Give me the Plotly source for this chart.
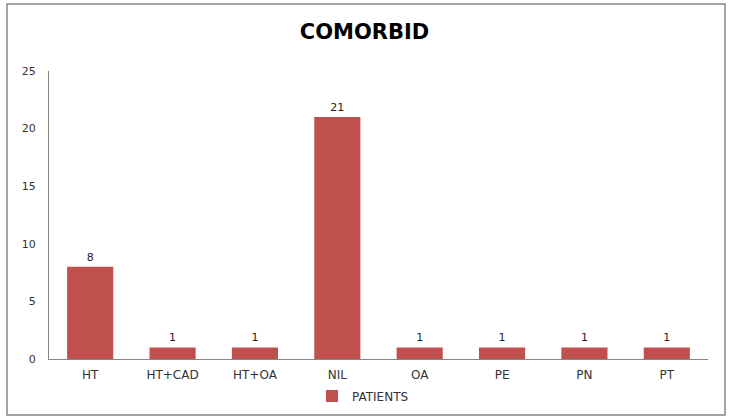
import plotly.graph_objects as go

categories = ["HT", "HT+CAD", "HT+OA", "NIL", "OA", "PE", "PN", "PT"]
patients = [8, 1, 1, 21, 1, 1, 1, 1]
series_name = "PATIENTS"
y_ticks = [0, 5, 10, 15, 20, 25]

W, H = 729, 417
L, R, T, B = 49, 21, 71, 58
pw, ph = W - L - R, H - T - B

def px_x(x):
    return (x - L) / pw

def px_y(y):
    return (H - B - y) / ph

font = "'DejaVu Sans', Verdana, sans-serif"

fig = go.Figure()
fig.add_trace(go.Bar(
    x=categories, y=patients, name=series_name,
    marker=dict(color="#C0504D", line=dict(width=0)),
    text=patients, textposition="outside",
    textfont=dict(size=11, color="#222222", family=font),
    cliponaxis=False,
))

fig.update_layout(
    width=W, height=H,
    margin=dict(l=L, r=R, t=T, b=B, pad=0, autoexpand=False),
    paper_bgcolor="white", plot_bgcolor="white",
    bargap=0.44,
    showlegend=True,
    title=dict(text="<b>COMORBID</b>", x=0.5, xanchor="center", y=1 - 32 / H, yanchor="middle",
               font=dict(size=21, color="#000000", family=font)),
    legend=dict(orientation="h", x=px_x(312), xanchor="left", y=px_y(396), yanchor="middle",
                font=dict(size=12, color="#333333", family=font), itemwidth=30,
                bgcolor="rgba(0,0,0,0)"),
    xaxis=dict(showline=True, linecolor="#868686", linewidth=1, ticks="", showgrid=False,
               ticklabelstandoff=5,
               tickfont=dict(size=12, color="#333333", family=font)),
    yaxis=dict(range=[0, 25], tickvals=y_ticks, showline=True, linecolor="#868686", linewidth=1,
               ticks="", showgrid=False, zeroline=False, ticklabelstandoff=10,
               tickfont=dict(size=11, color="#333333", family=font)),
    shapes=[dict(type="rect", xref="paper", yref="paper",
                 x0=px_x(7), x1=px_x(725), y0=px_y(415), y1=px_y(4),
                 line=dict(color="#868686", width=1.5), fillcolor="rgba(0,0,0,0)", layer="below")],
)

fig.write_html("out.html")
